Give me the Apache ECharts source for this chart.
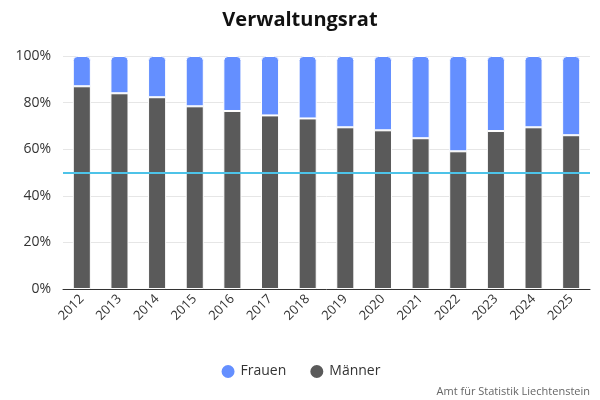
<!DOCTYPE html>
<html><head><meta charset="utf-8">
<script src="https://cdn.jsdelivr.net/npm/echarts@6/dist/echarts.min.js"></script>
<style>html,body{margin:0;padding:0;background:#fff}#c{width:600px;height:400px}</style>
</head><body><div id="c"></div>
<script>
var years = ['2012','2013','2014','2015','2016','2017','2018','2019','2020','2021','2022','2023','2024','2025'];
var maenner = [87.0, 84.0, 82.3, 78.4, 76.4, 74.5, 73.2, 69.4, 68.1, 64.7, 59.1, 67.8, 69.4, 66.0];
var frauen = [13.0, 16.0, 17.7, 21.6, 23.6, 25.5, 26.8, 30.6, 31.9, 35.3, 40.9, 32.2, 30.6, 34.0];
var refLine = 50;
var yTicks = [0, 20, 40, 60, 80, 100];

var font = '"Open Sans", "Noto Sans", sans-serif';
var chart = echarts.init(document.getElementById('c'));
chart.setOption({
  animation: false,
  textStyle: {fontFamily: font},
  title: {text: 'Verwaltungsrat', left: 'center', top: 5, textStyle: {fontSize: 20, fontWeight: 'bold', color: '#111', fontFamily: font}},
  legend: {bottom: 15, itemGap: 22, icon: 'circle', itemWidth: 15, itemHeight: 15, textStyle: {fontSize: 14, color: '#333', fontFamily: font}, data: ['Frauen', 'Männer']},
  grid: {left: 63, right: 10, top: 56, bottom: 111},
  graphic: [{type: 'text', right: 10, bottom: 3, style: {text: 'Amt für Statistik Liechtenstein', fontSize: 11, fill: '#666', fontFamily: font}}],
  xAxis: {type: 'category', data: years, axisTick: {show: false},
    axisLine: {lineStyle: {color: '#333'}},
    axisLabel: {rotate: 45, fontSize: 13, color: '#333', margin: 8, fontFamily: font}},
  yAxis: {type: 'value', min: yTicks[0], max: yTicks[yTicks.length-1], interval: 20,
    axisLabel: {formatter: '{value}%', fontSize: 14, color: '#333', margin: 12, fontFamily: font},
    splitLine: {lineStyle: {color: '#e6e6e6'}}},
  series: [
    {name: 'Männer', type: 'bar', stack: 'a', data: maenner, barWidth: '48%',
      itemStyle: {color: '#5a5a5a', borderColor: '#fff', borderWidth: 1},
      markLine: {silent: true, symbol: 'none', label: {show: false}, lineStyle: {color: '#4dc3e8', width: 2, type: 'solid'}, data: [{yAxis: refLine}]}},
    {name: 'Frauen', type: 'bar', stack: 'a', data: frauen, barWidth: '48%',
      itemStyle: {color: '#648fff', borderColor: '#fff', borderWidth: 1, borderRadius: [4,4,0,0]}}
  ]
});
</script></body></html>
